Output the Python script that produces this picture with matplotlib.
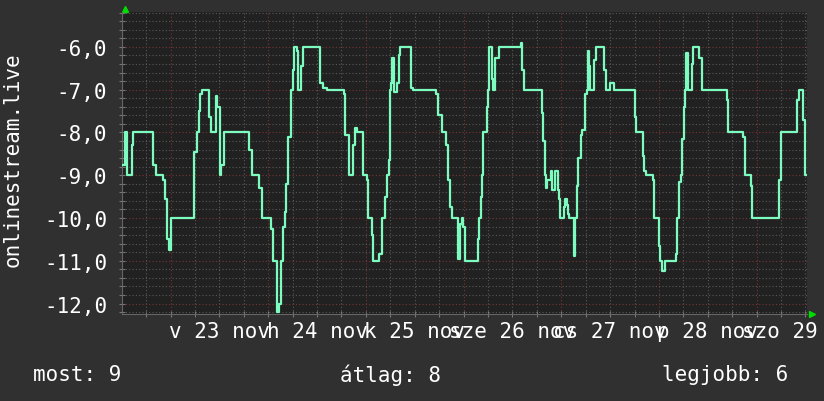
import matplotlib
matplotlib.use('Agg')
import matplotlib.pyplot as plt
from matplotlib.ticker import FixedLocator, MultipleLocator, FuncFormatter


# hours since 23 nov 00:00 -> value from then on (step data)
hours = [-11.8, -11.1, -10.6, -9.5, -9.1, -4.4, -3.6, -1.9, -1.35, -0.9,
         -0.37, 0.05, 5.8, 6.4, 6.9, 7.25, 7.8, 9.4, 9.9, 11.2,
         11.5, 12.1, 12.4, 13.1, 19.4, 20.1, 21.7, 22.4, 24.6, 25.2,
         26.1, 26.7, 27.2, 27.7, 28.1, 28.4, 28.9, 29.5, 30.0, 30.4,
         31.0, 31.3, 32.06, 32.5, 36.7, 37.5, 38.5, 42.7, 42.95, 43.9,
         44.9, 45.4, 45.7, 47.4, 48.2, 48.4, 49.5, 49.8, 51.3, 51.9,
         52.6, 53.1, 53.6, 53.9, 54.1, 54.3, 55.0, 55.6, 56.2, 56.5,
         59.1, 59.5, 65.2, 65.8, 66.8, 67.7, 68.2, 68.6, 69.1, 70.55,
         71.1, 71.5, 71.9, 72.35, 75.5, 75.8, 76.2, 76.6, 76.85, 77.8,
         78.1, 78.3, 78.9, 79.3, 79.7, 80.8, 86.0, 86.35, 86.8, 91.2,
         91.6, 92.0, 92.2, 92.6, 93.4, 93.7, 94.45, 95.1, 95.4, 95.6,
         96.7, 97.0, 97.3, 97.6, 98.0, 99.1, 99.4, 99.8, 100.2, 100.8,
         101.2, 101.9, 102.2, 102.5, 102.7, 103.05, 104.1, 104.45, 106.5, 106.9,
         107.95, 109.0, 114.0, 114.35, 116.0, 116.3, 116.7, 118.6, 118.85, 119.9,
         120.25, 120.8, 121.55, 124.2, 124.5, 125.0, 125.3, 125.7, 126.1, 126.4,
         126.55, 127.1, 128.0, 128.4, 129.9, 130.5, 136.6, 137.0, 140.7, 141.05,
         142.5, 142.9, 149.4, 149.9, 154.0, 154.4, 155.45, 155.9, 156.3]
values = [-8.75, -8.0, -9.0, -8.3, -8.0, -8.75, -9.0, -9.1, -9.55, -10.5,
          -10.75, -10.0, -8.45, -8.0, -7.5, -7.1, -7.0, -7.65, -8.0, -7.15,
          -7.4, -9.0, -8.75, -8.0, -8.4, -9.0, -9.3, -10.0, -10.25, -11.0,
          -12.2, -12.0, -11.0, -10.2, -9.85, -9.2, -8.1, -7.0, -6.55, -6.0,
          -6.1, -7.0, -6.45, -6.0, -6.85, -6.95, -7.0, -7.1, -8.05, -9.0,
          -8.3, -7.9, -8.0, -9.0, -9.1, -10.0, -10.4, -11.0, -10.85, -10.0,
          -9.5, -9.0, -8.65, -7.0, -6.85, -6.25, -7.05, -6.85, -6.2, -6.0,
          -6.95, -7.0, -7.1, -7.6, -8.0, -8.3, -9.1, -9.75, -10.0, -10.95,
          -10.15, -10.0, -10.2, -11.0, -10.5, -10.0, -9.5, -9.0, -8.0, -7.4,
          -7.0, -6.0, -6.75, -7.0, -6.25, -6.0, -5.9, -6.55, -7.0, -7.55,
          -8.2, -9.0, -9.3, -9.1, -8.9, -9.35, -8.9, -9.35, -9.55, -10.0,
          -9.75, -9.55, -9.7, -9.9, -10.0, -10.9, -10.0, -9.25, -8.6, -8.05,
          -7.95, -7.1, -7.0, -6.1, -6.45, -7.0, -6.3, -6.0, -6.55, -7.0,
          -6.85, -7.0, -7.65, -8.0, -8.55, -8.9, -9.0, -9.1, -10.0, -10.65,
          -11.0, -11.25, -11.0, -10.85, -10.0, -9.15, -9.0, -8.15, -7.4, -7.0,
          -6.15, -7.0, -6.4, -6.0, -6.25, -7.0, -7.25, -8.0, -8.1, -9.0,
          -9.25, -10.0, -9.1, -8.0, -7.25, -7.0, -7.7, -9.0, -9.0]

day_labels = ['v 23 nov', 'h 24 nov', 'k 25 nov', 'sze 26 nov',
              'cs 27 nov', 'p 28 nov', 'szo 29 nov']
y_ticks = [-12, -11, -10, -9, -8, -7, -6]
legend_texts = ['most: 9', 'átlag: 8', 'legjobb: 6']

_FONT = 'DejaVu Sans Mono'
_BG = '#303030'
_PLOT_BG = '#212121'
_LINE = '#7dfcc0'
_MINOR = '#5a5a5a'
_MAJOR = '#7a3535'


def main():
    fig = plt.figure(figsize=(8.24, 4.02), dpi=100, facecolor=_BG)
    ax = fig.add_axes([122.5 / 824, 87 / 402, 684.2 / 824, 301.7 / 402])
    ax.set_facecolor(_PLOT_BG)

    ax.set_xlim(-11.8, 156.3)
    ax.set_ylim(-12.245, -5.19)

    # grid
    ax.xaxis.set_major_locator(MultipleLocator(24))
    ax.xaxis.set_minor_locator(MultipleLocator(6))
    ax.yaxis.set_major_locator(FixedLocator(y_ticks))
    ax.yaxis.set_minor_locator(MultipleLocator(0.2))
    ax.grid(which='minor', color=_MINOR, linestyle=(0, (1, 2)), linewidth=0.8)
    ax.grid(which='major', color=_MAJOR, linestyle=(0, (1, 2)), linewidth=0.8)
    ax.set_axisbelow(True)

    ax.plot(hours, values, drawstyle='steps-post', color=_LINE,
            linewidth=1.6, zorder=3)

    # ticks and labels
    ax.tick_params(axis='both', which='both', colors='#777777',
                   direction='inout', length=4, width=0.8)
    ax.tick_params(axis='x', labelbottom=False)
    ax.yaxis.set_major_formatter(FuncFormatter(
        lambda v, p: ('%.1f' % v).replace('.', ',')))
    for lab in ax.get_yticklabels():
        lab.set_fontfamily(_FONT)
        lab.set_fontsize(15)
        lab.set_color('white')
    ax.tick_params(axis='y', pad=9)

    for i, lab in enumerate(day_labels):
        ax.text(12 + 24 * i, -0.055, lab, transform=ax.get_xaxis_transform(),
                ha='center', va='center', fontfamily=_FONT, fontsize=15,
                color='white', clip_on=False)

    for side in ['top', 'right']:
        ax.spines[side].set_visible(False)
    for side in ['left', 'bottom']:
        ax.spines[side].set_color('#666666')
        ax.spines[side].set_linewidth(0.8)

    # green arrows
    ax.plot([0.003], [1.012], marker='^', color='#00dd00', markersize=5,
            transform=ax.transAxes, clip_on=False)
    ax.plot([1.008], [0.0], marker='>', color='#00dd00', markersize=5,
            transform=ax.transAxes, clip_on=False)

    fig.text(12.5 / 824, 1 - 160 / 402, 'onlinestream.live', rotation=90,
             ha='center', va='center', fontfamily=_FONT, fontsize=15,
             color='white')

    xs = [33, 340, 662]
    for x, t in zip(xs, legend_texts):
        fig.text(x / 824, 1 - 375 / 402, t, ha='left', va='center',
                 fontfamily=_FONT, fontsize=15, color='white')

    fig.savefig('out.png', dpi=100, facecolor=_BG)


if __name__ == '__main__':
    main()
